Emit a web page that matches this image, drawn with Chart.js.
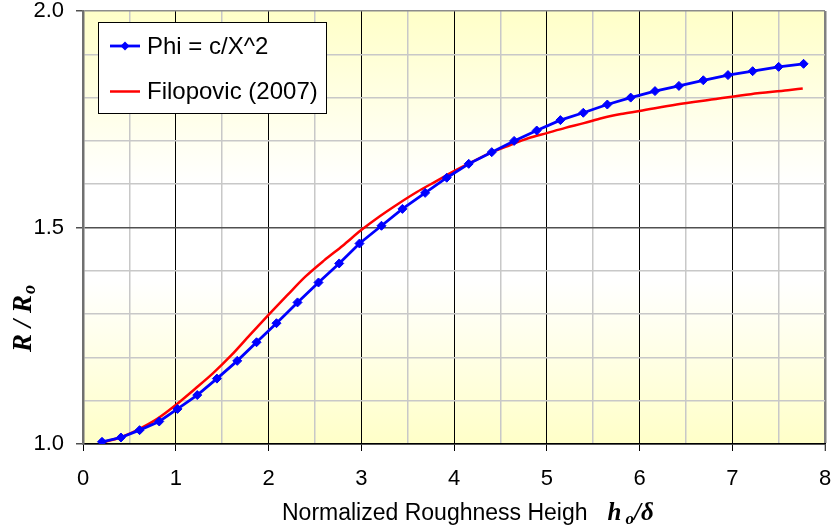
<!DOCTYPE html>
<html>
<head>
<meta charset="utf-8">
<script src="https://cdn.jsdelivr.net/npm/chart.js@4/dist/chart.umd.min.js"></script>
<style>
  html, body { margin: 0; padding: 0; background: #ffffff; }
  #wrap { width: 832px; height: 530px; position: relative; }
</style>
</head>
<body>
<div id="wrap"><canvas id="c" width="832" height="530"></canvas></div>
<script>
// ---- data ----
const seriesNames = ["Phi = c/X^2", "Filopovic (2007)"];

const phiX = [0.205, 0.409, 0.610, 0.822, 1.019, 1.232, 1.444, 1.663, 1.871, 2.086,
              2.313, 2.539, 2.762, 2.981, 3.218, 3.444, 3.689, 3.922, 4.159, 4.407,
              4.648, 4.892, 5.147, 5.394, 5.653, 5.905, 6.167, 6.425, 6.688, 6.954,
              7.220, 7.500, 7.769];
const phiY = [1.005, 1.015, 1.032, 1.052, 1.081, 1.113, 1.151, 1.192, 1.235, 1.279,
              1.327, 1.373, 1.417, 1.463, 1.504, 1.543, 1.580, 1.615, 1.647, 1.674,
              1.700, 1.724, 1.748, 1.765, 1.784, 1.800, 1.815, 1.827, 1.840, 1.852,
              1.861, 1.871, 1.878];

const filX = [0.2, 0.4, 0.6, 0.8, 1.0, 1.2, 1.4, 1.6, 1.8, 2.0,
              2.2, 2.4, 2.6, 2.8, 3.0, 3.2, 3.4, 3.6, 3.8, 4.0,
              4.2, 4.4, 4.6, 4.8, 5.0, 5.2, 5.4, 5.6, 5.8, 6.0,
              6.4, 6.8, 7.2, 7.6, 7.76];
const filY = [1.003, 1.015, 1.034, 1.058, 1.090, 1.126, 1.163, 1.205, 1.252, 1.298,
              1.343, 1.387, 1.424, 1.458, 1.494, 1.526, 1.555, 1.582, 1.606, 1.630,
              1.652, 1.673, 1.690, 1.706, 1.718, 1.730, 1.741, 1.753, 1.762, 1.769,
              1.784, 1.796, 1.808, 1.817, 1.821];

const xTickLabels = ["0", "1", "2", "3", "4", "5", "6", "7", "8"];
const yTickLabels = ["1.0", "1.5", "2.0"];

const xTitle = "Normalized Roughness Heigh";

// ---- helpers ----
const toPts = (xs, ys) => xs.map((x, i) => ({ x: x, y: ys[i] }));
const isInt = v => Math.abs(v - Math.round(v)) < 1e-6;
const isHalf = v => Math.abs(v * 2 - Math.round(v * 2)) < 1e-6;

const SANS = '"Liberation Sans", Arial, sans-serif';
const SERIF = '"Liberation Serif", "Times New Roman", serif';

// background gradient in plot area
const bgPlugin = {
  id: 'bg',
  beforeDraw(chart) {
    const { ctx, chartArea: a } = chart;
    const g = ctx.createLinearGradient(0, a.top, 0, a.bottom);
    g.addColorStop(0, '#FFFFC8');
    g.addColorStop(0.40, '#FFFFFF');
    g.addColorStop(0.62, '#FFFFFF');
    g.addColorStop(1, '#FFFFC8');
    ctx.save();
    ctx.fillStyle = g;
    ctx.fillRect(a.left, a.top, a.right - a.left, a.bottom - a.top);
    ctx.restore();
  }
};

// axis titles (mixed fonts)
const titlePlugin = {
  id: 'titles',
  afterDraw(chart) {
    const { ctx, chartArea: a } = chart;
    ctx.save();
    ctx.fillStyle = '#000';
    ctx.textBaseline = 'alphabetic';
    ctx.textAlign = 'left';
    // x title
    const by = a.bottom + 76;
    let x = a.left + 199;
    ctx.font = '23px ' + SANS;
    ctx.fillText(xTitle, x, by);
    x += ctx.measureText(xTitle).width + 20;
    ctx.font = 'italic bold 25px ' + SERIF;
    ctx.fillText('h', x, by);
    x += ctx.measureText('h').width + 4;
    ctx.font = 'italic bold 17px ' + SERIF;
    ctx.fillText('o', x, by + 4);
    x += ctx.measureText('o').width;
    ctx.font = 'italic bold 25px ' + SERIF;
    ctx.fillText('/\u03B4', x, by);

    // y title (rotated)
    ctx.translate(31, a.top + 341);
    ctx.rotate(-Math.PI / 2);
    ctx.font = 'italic bold 27px ' + SERIF;
    let t = 'R / R';
    ctx.fillText(t, 0, 0);
    let w = ctx.measureText(t).width;
    ctx.font = 'italic bold 18px ' + SERIF;
    ctx.fillText('o', w + 1, 4);
    ctx.restore();
  }
};

// legend box
const legendPlugin = {
  id: 'legendBox',
  afterDraw(chart) {
    const { ctx, chartArea: a } = chart;
    const bx = a.left + 15, byTop = a.top + 11, bw = 228, bh = 91;
    ctx.save();
    ctx.fillStyle = '#FFFFFF';
    ctx.fillRect(bx, byTop, bw, bh);
    ctx.strokeStyle = '#000';
    ctx.lineWidth = 1;
    ctx.strokeRect(bx + 0.5, byTop + 0.5, bw, bh);
    chart.data.datasets.forEach((ds, i) => {
      const cy = byTop + 24 + i * 45.5;
      ctx.strokeStyle = ds.borderColor;
      ctx.lineWidth = ds.borderWidth;
      ctx.beginPath();
      ctx.moveTo(bx + 12, cy);
      ctx.lineTo(bx + 42, cy);
      ctx.stroke();
      if (ds.pointRadius > 0) {
        const mx = bx + 27, r = 4.5;
        ctx.fillStyle = ds.pointBackgroundColor;
        ctx.beginPath();
        ctx.moveTo(mx, cy - r); ctx.lineTo(mx + r, cy); ctx.lineTo(mx, cy + r); ctx.lineTo(mx - r, cy);
        ctx.closePath(); ctx.fill();
      }
      ctx.fillStyle = '#000';
      ctx.font = '24px ' + SANS;
      ctx.textBaseline = 'middle';
      ctx.textAlign = 'left';
      ctx.fillText(ds.label, bx + 49, cy + 1);
    });
    ctx.restore();
  }
};

new Chart(document.getElementById('c'), {
  type: 'line',
  data: {
    datasets: [
      {
        label: seriesNames[0],
        data: toPts(phiX, phiY),
        borderColor: '#0000FF',
        backgroundColor: '#0000FF',
        pointBackgroundColor: '#0000FF',
        pointBorderColor: '#0000FF',
        pointStyle: 'rectRot',
        pointRadius: 4.5,
        pointBorderWidth: 1,
        borderWidth: 2.8,
        tension: 0,
        fill: false
      },
      {
        label: seriesNames[1],
        data: toPts(filX, filY),
        borderColor: '#FF0000',
        backgroundColor: '#FF0000',
        pointBackgroundColor: '#FF0000',
        pointRadius: 0,
        borderWidth: 2.5,
        cubicInterpolationMode: 'monotone',
        fill: false
      }
    ]
  },
  options: {
    responsive: false,
    animation: false,
    layout: { padding: { left: 0, top: 0, right: 0, bottom: 0 } },
    plugins: {
      legend: { display: false },
      tooltip: { enabled: false },
      title: { display: false }
    },
    scales: {
      x: {
        type: 'linear',
        min: 0, max: 8,
        afterFit(scale) { scale.height = 86; scale.paddingRight = 7; },
        ticks: {
          stepSize: 0.5,
          autoSkip: false,
          maxRotation: 0,
          padding: 15,
          color: '#000',
          font: { family: SANS, size: 22 },
          callback: v => isInt(v) ? xTickLabels[Math.round(v)] : ''
        },
        grid: {
          color: c => {
            const v = c.tick ? c.tick.value : 0;
            if (Math.abs(v - 8) < 1e-6) return '#808080';
            return isInt(v) ? '#000000' : '#C8C8C8';
          },
          lineWidth: c => {
            const v = c.tick ? c.tick.value : 0;
            if (Math.abs(v - 8) < 1e-6) return 2.5;
            return isInt(v) ? 1 : 1.5;
          },
          tickLength: 7,
          tickColor: c => (c.tick && isInt(c.tick.value)) ? '#000000' : 'rgba(0,0,0,0)',
          tickWidth: 1
        },
        border: { display: true, color: '#000000', width: 1.5 }
      },
      y: {
        type: 'linear',
        min: 1, max: 2,
        afterFit(scale) { scale.width = 83; scale.paddingTop = 11; },
        ticks: {
          stepSize: 0.1,
          autoSkip: false,
          padding: 12,
          color: '#000',
          font: { family: SANS, size: 22, lineHeight: 1.0 },
          callback: v => isHalf(v) ? yTickLabels[Math.round((v - 1) * 2)] : ''
        },
        grid: {
          color: c => {
            const v = c.tick ? c.tick.value : 0;
            if (Math.abs(v - 2) < 1e-6) return '#8C8C8C';
            return isHalf(v) ? '#505050' : '#C8C8C8';
          },
          lineWidth: 1.5,
          tickLength: 7,
          tickColor: c => (c.tick && isHalf(c.tick.value)) ? '#505050' : 'rgba(0,0,0,0)',
          tickWidth: 1.5
        },
        border: { display: true, color: '#707070', width: 2.5 }
      }
    }
  },
  plugins: [bgPlugin, titlePlugin, legendPlugin]
});
</script>
</body>
</html>
